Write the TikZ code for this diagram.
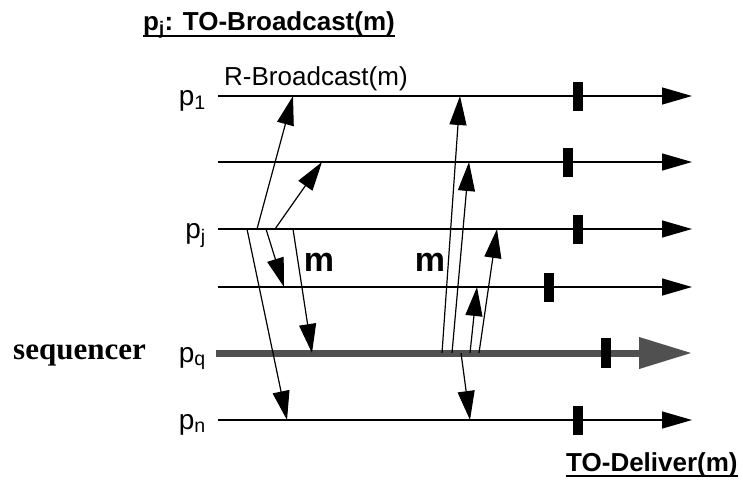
\documentclass[tikz,border=0pt]{standalone}
\usepackage{fontspec}
\setmainfont{Liberation Sans}
\newfontfamily\seqfont{Liberation Serif}
\usetikzlibrary{arrows.meta,positioning}
\definecolor{seqgray}{HTML}{505050}

\begin{document}
\begin{tikzpicture}[x=1pt,y=-1pt,
  proc/.style={line width=1.3pt,-{Triangle[length=30pt,width=17pt]}},
  seq/.style={line width=7pt,color=seqgray,-{Triangle[length=53pt,width=30pt]}},
  msg/.style={line width=1.2pt,-{Triangle[length=29pt,width=17pt]}},
  dlv/.style={fill=black,inner sep=0pt,minimum width=10pt,minimum height=29pt},
  plabel/.style={anchor=base east,inner sep=0pt,font=\fontsize{28}{30}\selectfont},
  mlabel/.style={inner sep=0pt,font=\fontsize{34}{36}\selectfont\bfseries},
  head/.style={anchor=base west,inner sep=0pt,font=\fontsize{26}{30}\selectfont\bfseries},
  uline/.style={line width=1.8pt}]
\useasboundingbox (0,0) rectangle (743,479);
% process lines and deliver marks
\foreach \n/\y/\t in {1/96/578,2/162/568,j/229/578,4/287/549,n/420/578}{
  \coordinate (p\n) at (218,\y);
  \coordinate (e\n) at (692,\y);
  \draw[proc] (p\n) -- (e\n);
  \node[dlv] (d\n) at (\t,\y) {};
}
\coordinate (pq) at (216,353);
\coordinate (eq) at (692,353);
\draw[seq] (pq) -- (eq);
\node[dlv,minimum height=30pt] (dq) at (606,353) {};
% labels
\node[plabel] (l1) at ([xshift=-12pt,yshift=-9pt]p1) {p\textsubscript{1}};
\node[plabel] (lj) at ([xshift=-12pt,yshift=-9pt]pj) {p\textsubscript{j}};
\node[plabel] (lq) at ([xshift=-10pt,yshift=-9pt]pq) {p\textsubscript{q}};
\node[plabel] (ln) at ([xshift=-12pt,yshift=-9pt]pn) {p\textsubscript{n}};
\node[anchor=base east,inner sep=0pt,font=\fontsize{31}{34}\selectfont\seqfont\bfseries] (seq) at (146,359) {sequencer};
\node[anchor=base west,inner sep=0pt,font=\fontsize{26}{30}\selectfont] (rb) at (224,85) {R-Broadcast(m)};
\node[mlabel] (m1) at (319,262) {m};
\node[mlabel] (m2) at (430,262) {m};
% R-Broadcast from p_j
\draw[msg] (257,0 |- pj) -- (293,0 |- p1);
\draw[msg] (275,0 |- pj) -- (322,0 |- p2);
\draw[msg] (266,0 |- pj) -- (284,0 |- p4);
\draw[msg] (293,0 |- pj) -- (312,0 |- pq);
\draw[msg] (247,0 |- pj) -- (287,0 |- pn);
% R-Broadcast from the sequencer
\draw[msg] (442,0 |- pq) -- (460,0 |- p1);
\draw[msg] (452,0 |- pq) -- (469,0 |- p2);
\draw[msg] (470,0 |- pq) -- (477,0 |- p4);
\draw[msg] (479,0 |- pq) -- (497,0 |- pj);
\draw[msg] (461,0 |- pq) -- (470,0 |- pn);
% headings
\node[head] (title) at (143,30) {p\textsubscript{j}: TO-Broadcast(m)};
\draw[uline] ([yshift=-6pt]title.base west) -- ([yshift=-6pt]title.base east);
\node[head] (deliver) at (566,471) {TO-Deliver(m)};
\draw[uline] ([yshift=-5pt]deliver.base west) -- ([yshift=-5pt]deliver.base east);
\end{tikzpicture}
\end{document}
